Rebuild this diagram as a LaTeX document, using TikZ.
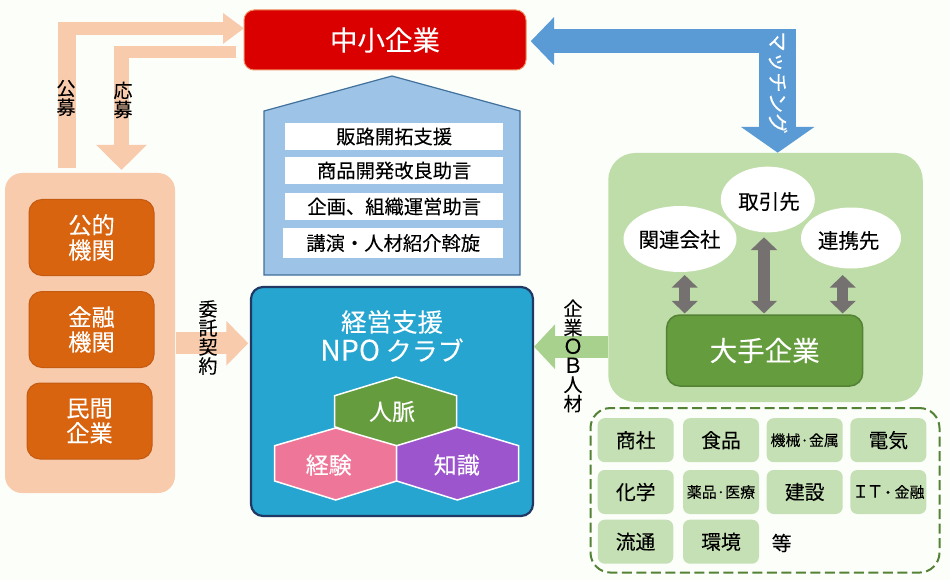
\documentclass[tikz,border=0pt]{standalone}
\usepackage{fontspec}
\setmainfont{Noto Sans CJK JP}[FakeBold=0.06]
\usetikzlibrary{arrows.meta,shapes.geometric}
\definecolor{bgc}{HTML}{FCFEFA}
\definecolor{peach}{HTML}{F8CBAD}
\definecolor{orangeb}{HTML}{D96410}
\definecolor{orangel}{HTML}{C55A11}
\definecolor{redc}{HTML}{DA0000}
\definecolor{redl}{HTML}{F09060}
\definecolor{bluea}{HTML}{5B9BD5}
\definecolor{houseb}{HTML}{9DC3E6}
\definecolor{housel}{HTML}{41719C}
\definecolor{teal2}{HTML}{25A5CF}
\definecolor{navy}{HTML}{1F3864}
\definecolor{panelg}{HTML}{BFDDA9}
\definecolor{bigg}{HTML}{659C3D}
\definecolor{biggl}{HTML}{548235}
\definecolor{pinkh}{HTML}{EE7799}
\definecolor{purph}{HTML}{9C55CC}
\definecolor{arrg}{HTML}{A9D18E}
\definecolor{graya}{HTML}{767171}
\definecolor{tile}{HTML}{C5E0B4}
\newcommand{\fs}[2]{\fontsize{#1}{#2}\selectfont}
\tikzset{
  base/.style={inner sep=0pt,outer sep=0pt,align=center,rectangle},
  panelbox/.style={base,rounded corners=#1},
  orangebox/.style={base,rounded corners=13pt,fill=orangeb,draw=orangel,line width=1pt,minimum width=125pt,minimum height=76pt,text=white,font=\fs{23.3}{25}},
  rowbox/.style={base,fill=white,minimum height=27pt,minimum width=218.5pt,font=\fs{19.3}{22}},
  tilebox/.style={base,rounded corners=7pt,fill=tile,minimum width=76pt,minimum height=44pt,font=\fs{19.8}{22}},
  tilesmall/.style={tilebox,font=\fs{15}{18}},
  blob/.style={ellipse,fill=white,inner sep=0pt,outer sep=0pt},
  lbl/.style={inner sep=0pt,outer sep=0pt,align=center},
  vlbl/.style={lbl,font=\fs{19}{19}},
  hexa/.style={draw=white,line width=1.5pt,line join=miter},
  shaft/.style={line cap=butt,line join=miter},
  grayarrow/.style={draw=graya,line width=11.5pt,{Triangle[length=12.7pt,width=25.5pt]}-{Triangle[length=12.7pt,width=25.5pt]}}
}
\begin{document}
\begin{tikzpicture}[x=1pt,y=-1pt]
\useasboundingbox (0,0) rectangle (950,580);
\fill[bgc] (0,0) rectangle (950,580);

% left panel
\node[panelbox=17pt,fill=peach,minimum width=170pt,minimum height=320pt] (left) at (90,333) {};
\node[orangebox] (kouteki) at (91.5,237.5) {公的\\機関};
\node[orangebox] (kinyu) at (91.5,329.5) {金融\\機関};
\node[orangebox] (minkan) at (89.5,421) {民間\\企業};

% top box
\node[panelbox=10pt,fill=redc,draw=redl,line width=1pt,minimum width=282pt,minimum height=60pt,text=white,font=\fs{27.5}{30}] (chusho) at (385,40) {中小企業};

% house
\draw[fill=houseb,draw=housel,line width=1.2pt] (264,275) -- (264,111) -- (392,76) -- (520,111) -- (520,275) -- cycle;
\node[rowbox] (r1) at (394.2,136.5) {販路開拓支援};
\node[rowbox] (r2) at (394.2,170.5) {商品開発改良助言};
\node[rowbox] (r3) at (394.2,206.5) {企画、組織運営助言};
\node[rowbox,minimum height=30pt,minimum width=219.5pt] (r4) at (393.2,243) {講演・人材紹介斡旋};

% NPO
\node[panelbox=12pt,fill=teal2,draw=navy,line width=2.2pt,minimum width=282pt,minimum height=229pt] (npo) at (392,401.5) {};
\node[lbl,text=white,font=\fs{25.5}{29}] (npot) at (392,336) {経営支援\\{\fs{28.5}{29}NPO} \fs{26}{29}クラブ};
\draw[hexa,fill=bigg] (396,377) -- (456.7,395.7) -- (456.7,426.7) -- (396,448.3) -- (334.7,426.7) -- (334.7,395.7) -- cycle;
\draw[hexa,fill=pinkh] (335.7,428) -- (396.7,445.7) -- (396.7,481) -- (335.7,500) -- (274.7,481) -- (274.7,445.7) -- cycle;
\draw[hexa,fill=purph] (457.3,427.3) -- (518.7,445.7) -- (518.7,481) -- (457.3,500) -- (396.7,481) -- (396.7,445.7) -- cycle;
\node[lbl,text=white,font=\fs{23}{25}] (jinmyaku) at (392,411.5) {人脈};
\node[lbl,text=white,font=\fs{23}{25}] (keiken) at (328.7,465) {経験};
\node[lbl,text=white,font=\fs{23}{25}] (chishiki) at (456.7,465) {知識};

% right panel
\node[panelbox=27pt,fill=panelg,minimum width=314.5pt,minimum height=249pt] (right) at (765.5,277.5) {};
\node[blob,minimum width=94pt,minimum height=65.7pt] (torihiki) at (767.8,199.5) {};
\node[blob,minimum width=113pt,minimum height=66pt] (kanren) at (680,239) {};
\node[blob,minimum width=100pt,minimum height=61pt] (renkei) at (851,238) {};
\node[lbl,font=\fs{20.5}{23}] (torihikit) at (769,201.5) {取引先};
\node[lbl,font=\fs{20.5}{23}] (kanrent) at (679.5,239.5) {関連会社};
\node[lbl,font=\fs{20.5}{23}] (renkeit) at (848.7,240.5) {連携先};
\node[panelbox=13pt,fill=bigg,draw=biggl,line width=1.5pt,minimum width=196pt,minimum height=71pt,text=white,font=\fs{27.5}{30}] (oote) at (764.7,350.5) {大手企業};

% gray double arrows
\coordinate (g1a) at (684.7,275);
\coordinate (g1b) at (684.7,313.5);
\coordinate (g2a) at (764,237.3);
\coordinate (g2b) at (764,313.5);
\coordinate (g3a) at (842.7,275);
\coordinate (g3b) at (842.7,313.5);
\draw[grayarrow] (g1a) -- (g1b);
\draw[grayarrow] (g2a) -- (g2b);
\draw[grayarrow] (g3a) -- (g3b);

% dashed group
\node[panelbox=20pt,draw=biggl,line width=2pt,dash pattern=on 10pt off 4.5pt,minimum width=349pt,minimum height=164.5pt] (group) at (765,490.3) {};
\node[tilebox] (t11) at (635.7,440.2) {商社};
\node[tilebox] (t12) at (721,440.2) {食品};
\node[tilesmall] (t13) at (804.7,440.2) {機械·金属};
\node[tilebox] (t14) at (888.3,440.2) {電気};
\node[tilebox] (t21) at (635.7,492) {化学};
\node[tilesmall] (t22) at (721,492) {薬品·医療};
\node[tilebox] (t23) at (804.7,492) {建設};
\node[tilebox] (t24) at (888.3,492) {\fs{17}{22}Ｉ\kern-2.5pt Ｔ\kern-2.5pt \fs{14}{22}・\fs{15}{22}\kern-0.5pt 金融};
\node[tilebox,minimum width=75.5pt] (t31) at (635.5,541.7) {流通};
\node[tilebox] (t32) at (721,541.7) {環境};
\node[lbl,font=\fs{19.8}{22}] (etc) at (781.7,543) {等};

% kobo
\coordinate (koboA) at (67.3,168);
\coordinate (koboB) at (67.3,22);
\coordinate (koboC) at (58.3,28.4);
\coordinate (koboD) at (244,28.4);
\draw[shaft,draw=peach,line width=18pt] (koboA) -- (koboB);
\draw[shaft,draw=peach,line width=12.7pt,-{Triangle[length=21pt,width=29.5pt]}] (koboC) -- (koboD);
% oubo
\coordinate (ouboA) at (236,52);
\coordinate (ouboB) at (114,52);
\coordinate (ouboC) at (121.5,46);
\coordinate (ouboD) at (121.5,170);
\draw[shaft,draw=peach,line width=12pt] (ouboA) -- (ouboB);
\draw[shaft,draw=peach,line width=15pt,-{Triangle[length=25pt,width=49pt]}] (ouboC) -- (ouboD);
% contract
\coordinate (itakuA) at (176,343.3);
\coordinate (itakuB) at (248.3,343.3);
\draw[shaft,draw=peach,line width=22pt,-{Triangle[length=22pt,width=43.5pt]}] (itakuA) -- (itakuB);
% OB
\coordinate (obA) at (608,346.7);
\coordinate (obB) at (534,346.7);
\draw[shaft,draw=arrg,line width=22pt,-{Triangle[length=21pt,width=43.5pt]}] (obA) -- (obB);
% matching
\coordinate (matA) at (796,41.2);
\coordinate (matB) at (530.7,41.2);
\coordinate (matC) at (777.7,29.3);
\coordinate (matD) at (777.7,152.7);
\draw[shaft,draw=bluea,line width=23.7pt,-{Triangle[length=23.3pt,width=46.7pt]}] (matA) -- (matB);
\draw[shaft,draw=bluea,line width=36.7pt,-{Triangle[length=25.7pt,width=72pt]}] (matC) -- (matD);

% arrow labels
\node[vlbl] (kobot) at (66,98) {公\\募};
\node[vlbl] (oubot) at (123,100) {応\\募};
\node[vlbl] (itakut) at (208,337.5) {委\\託\\契\\約};
\node[vlbl] (obt) at (573,356) {企\\業\\{\fs{20.5}{19}Ｏ}\\{\fs{20.5}{19}Ｂ}\\人\\材};
\node[lbl,rotate=-90,text=white,font=\fs{20.5}{21}] (matt) at (778,82.5) {マッチング};
\end{tikzpicture}
\end{document}
